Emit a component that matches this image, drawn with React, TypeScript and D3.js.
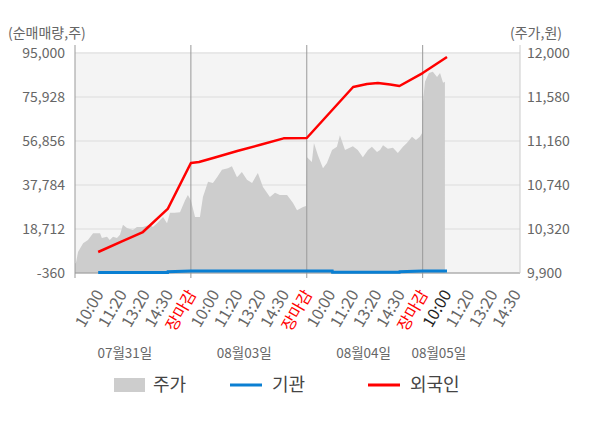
import React from "react";
import * as d3 from "d3";

// ---- data ----
const leftTicks = [-360, 18712, 37784, 56856, 75928, 95000];
const rightTicks = [9900, 10320, 10740, 11160, 11580, 12000];
const timeLabels = ["10:00", "11:20", "13:20", "14:30", "장마감"];
const dates = ["07월31일", "08월03일", "08월04일", "08월05일"];
const dateSlots = [2.15, 7.3, 12.45, 15.7];

// price (slot position, won)
const priceSlots = [
  0.0, 0.04, 0.13, 0.35, 0.56, 0.78, 1.08, 1.16, 1.38, 1.5, 1.64, 1.81, 1.94, 2.07, 2.24, 2.5, 2.67,
  2.93, 3.1, 3.24, 3.36, 3.54, 3.8, 3.97, 4.1, 4.31, 4.53, 4.75, 4.87, 5.0, 5.18, 5.39, 5.52, 5.74,
  5.95, 6.13, 6.34, 6.6, 6.77, 6.99, 7.2, 7.42, 7.64, 7.89, 8.11, 8.41, 8.63, 8.84, 9.15, 9.4, 9.58,
  9.84, 9.97, 10.01, 10.22, 10.31, 10.48, 10.7, 10.87, 11.09, 11.3, 11.43, 11.65, 11.99, 12.2, 12.42,
  12.64, 12.81, 13.03, 13.16, 13.29, 13.5, 13.72, 13.93, 14.15, 14.32, 14.54, 14.71, 14.88, 14.97,
  15.01, 15.1, 15.27, 15.44, 15.62, 15.75, 15.88, 15.96,
];
const prices = [
  9990, 9995, 10100, 10185, 10215, 10280, 10280, 10235, 10245, 10215, 10245, 10235, 10265, 10360,
  10330, 10310, 10340, 10340, 10350, 10360, 10340, 10375, 10435, 10375, 10475, 10475, 10480, 10595,
  10645, 10595, 10435, 10435, 10625, 10770, 10760, 10815, 10885, 10900, 10920, 10815, 10865, 10790,
  10760, 10855, 10720, 10625, 10665, 10645, 10645, 10570, 10500, 10530, 10540, 11005, 10960, 11140,
  11025, 10900, 10950, 11075, 11105, 11215, 11075, 11110, 11075, 11005, 11075, 11105, 11055, 11075,
  11120, 11085, 11095, 11045, 11105, 11140, 11200, 11170, 11200, 11235, 11525, 11725, 11810, 11820,
  11770, 11810, 11715, 11725,
];

// foreigners net buying (slot, shares)
const foreignSlots = [1, 2, 2.93, 4, 5, 5.35, 6, 7, 8, 9, 10, 11, 12, 12.6, 13.07, 13.6, 14, 15, 16.05];
const foreignValues = [
  8740, 13200, 17400, 27400, 47300, 47750, 49600, 52500, 55200, 58000, 58150, 69200, 80260, 81600,
  82000, 81300, 80700, 86300, 93300,
];

// institutions net buying
const instSlots = [1, 4.0, 4.01, 5, 10, 11.1, 11.11, 14, 14.01, 15, 16.05];
const instValues = [-150, -150, 200, 500, 500, 500, -50, -50, 200, 500, 500];

// ---- layout ----
const W = 600;
const H = 428;
const X0 = 75;
const X1 = 520;
const YT = 53;
const YB = 273;

const FONT = "'Noto Sans CJK KR', 'Noto Sans', sans-serif";
const fmt = (v: number) => d3.format(",")(v).replace("\u2212", "-");

export default function App() {
  const x = d3.scaleLinear().domain([0, 19.2]).range([X0, X1]);
  const yL = d3.scaleLinear().domain([-360, 95000]).range([YB, YT]);
  const yR = d3.scaleLinear().domain([9900, 12000]).range([YB, YT]);

  const priceData = priceSlots.map((s, i) => [s, prices[i]] as [number, number]);
  const area = d3
    .area<[number, number]>()
    .x((d) => x(d[0]))
    .y0(YB)
    .y1((d) => yR(d[1]));

  const line = d3
    .line<[number, number]>()
    .x((d) => x(d[0]))
    .y((d) => yL(d[1]));
  const foreignData = foreignSlots.map((s, i) => [s, foreignValues[i]] as [number, number]);
  const instData = instSlots.map((s, i) => [s, instValues[i]] as [number, number]);

  const tickSlots = d3.range(1, 20);
  const daySeps = [5, 10, 15];

  return (
    <div style={{ position: "absolute", left: 0, top: 0 }}>
      <svg width={W} height={H} style={{ display: "block", fontFamily: FONT }}>
        <rect x={0} y={0} width={W} height={H} fill="#fff" />
        <rect x={X0} y={YT - 1} width={X1 - X0} height={YB - YT + 1} fill="#f4f4f4" />
        {leftTicks.map((t) => (
          <line key={t} x1={X0} x2={X1} y1={yL(t)} y2={yL(t)} stroke="#dcdcdc" strokeWidth={1} />
        ))}
        <path d={area(priceData) || ""} fill="#cdcdcd" />
        {/* axes */}
        <line x1={X0} x2={X1} y1={YB} y2={YB} stroke="#999" strokeWidth={1} />
        <line x1={X0} x2={X0} y1={45} y2={278} stroke="#999" strokeWidth={1} />
        <line x1={X1} x2={X1} y1={45} y2={YB} stroke="#ccc" strokeWidth={1} />
        {daySeps.map((d) => (
          <line key={d} x1={x(d)} x2={x(d)} y1={45} y2={278} stroke="#999" strokeWidth={1} />
        ))}
        <path d={line(instData) || ""} fill="none" stroke="#0a7fd2" strokeWidth={3} />
        <path d={line(foreignData) || ""} fill="none" stroke="#ff0000" strokeWidth={2.5} strokeLinejoin="round" />
        {/* left axis */}
        {leftTicks.map((t) => (
          <text key={t} x={65} y={yL(t)} dy="0.35em" textAnchor="end" fontSize={14} fill="#666">
            {fmt(t)}
          </text>
        ))}
        <text x={8} y={38} fontSize={14} fill="#666">(순매매량,주)</text>
        {/* right axis */}
        {rightTicks.map((t) => (
          <text key={t} x={527} y={yR(t)} dy="0.35em" textAnchor="start" fontSize={14} fill="#666">
            {fmt(t)}
          </text>
        ))}
        <text x={562} y={38} textAnchor="end" fontSize={14} fill="#666">(주가,원)</text>
        {/* x tick labels */}
        {tickSlots.map((s) => {
          const idx = (s - 1) % 5;
          const label = timeLabels[idx];
          const isClose = idx === 4;
          const color = isClose ? "#ff0000" : s === 16 ? "#222" : "#666";
          const tx = x(s) + 6;
          const ty = 294;
          return (
            <text
              key={s}
              transform={`translate(${tx},${ty}) rotate(-60)`}
              textAnchor="end"
              fontSize={16}
              fill={color}
            >
              {label}
            </text>
          );
        })}
        {/* date labels */}
        {dates.map((d, i) => (
          <text key={d} x={x(dateSlots[i])} y={358} textAnchor="middle" fontSize={13.5} fill="#666">
            {d}
          </text>
        ))}
        {/* legend */}
        <rect x={114} y={378} width={31} height={14} fill="#cdcdcd" />
        <text x={153} y={391} fontSize={18} fill="#444">주가</text>
        <line x1={230} x2={262} y1={385} y2={385} stroke="#0a7fd2" strokeWidth={3} />
        <text x={272} y={391} fontSize={18} fill="#444">기관</text>
        <line x1={368} x2={400} y1={385} y2={385} stroke="#ff0000" strokeWidth={3} />
        <text x={410} y={391} fontSize={18} fill="#444">외국인</text>
      </svg>
    </div>
  );
}
